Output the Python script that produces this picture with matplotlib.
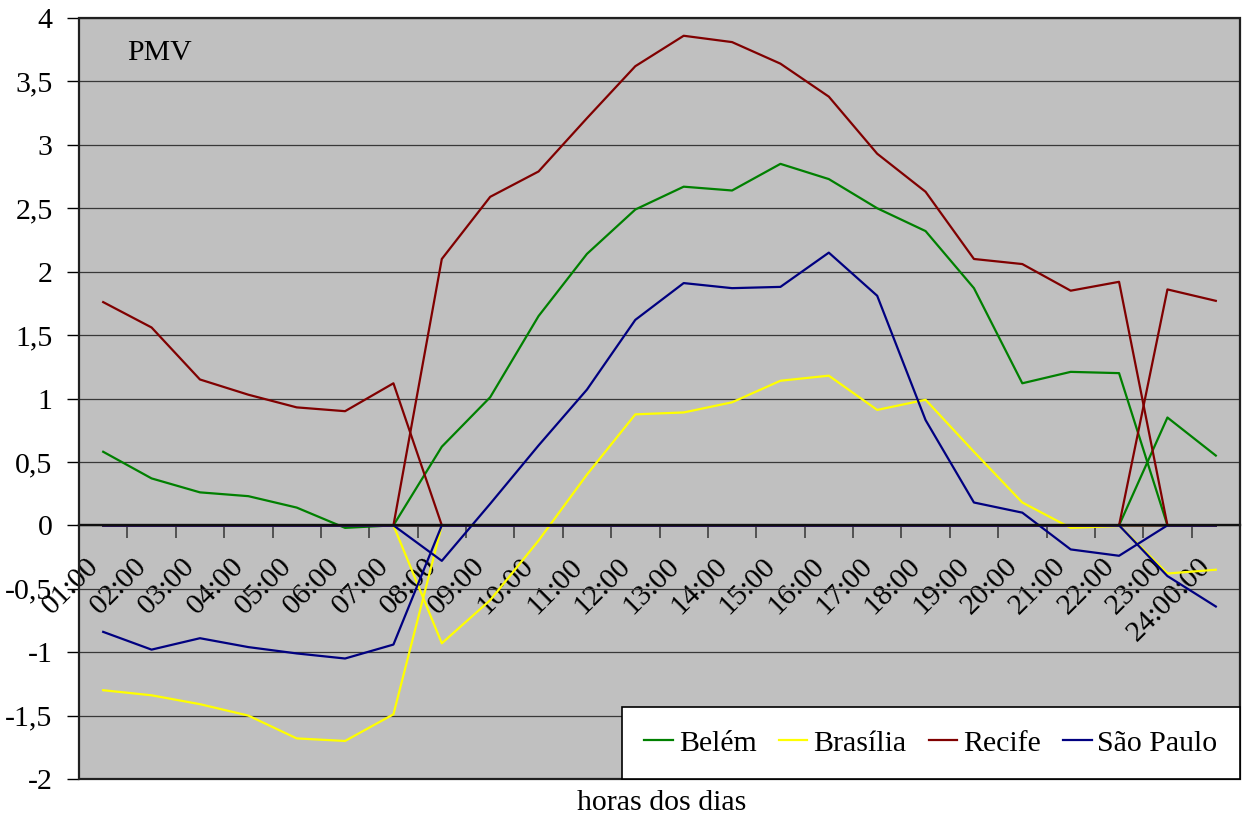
import numpy as np
import matplotlib
matplotlib.use("Agg")
import matplotlib.pyplot as plt
from matplotlib.ticker import FixedLocator, FuncFormatter, MultipleLocator
from matplotlib.patches import Rectangle
import matplotlib.transforms as mtransforms

plt.rcParams['font.family'] = ['Liberation Serif', 'DejaVu Serif']

hours = ['01:00', '02:00', '03:00', '04:00', '05:00', '06:00', '07:00', '08:00',
         '09:00', '10:00', '11:00', '12:00', '13:00', '14:00', '15:00', '16:00',
         '17:00', '18:00', '19:00', '20:00', '21:00', '22:00', '23:00', '24:00:00']

belem = [0.58, 0.37, 0.26, 0.23, 0.14, -0.02, 0.0, 0.62, 1.01, 1.65, 2.14, 2.49,
         2.67, 2.64, 2.85, 2.73, 2.50, 2.32, 1.87, 1.12, 1.21, 1.20, 0.85, 0.55]
brasilia = [-1.30, -1.34, -1.41, -1.50, -1.68, -1.70, -1.49, -0.93, -0.59, -0.12,
            0.40, 0.875, 0.89, 0.97, 1.14, 1.18, 0.91, 0.99, 0.58, 0.18, -0.02,
            -0.005, -0.38, -0.35]
recife = [1.76, 1.56, 1.15, 1.03, 0.93, 0.90, 1.12, 2.10, 2.59, 2.79, 3.21, 3.62,
          3.86, 3.81, 3.64, 3.38, 2.93, 2.63, 2.10, 2.06, 1.85, 1.92, 1.86, 1.77]
sao_paulo = [-0.84, -0.98, -0.89, -0.96, -1.01, -1.05, -0.94, -0.28, 0.17, 0.63,
             1.07, 1.62, 1.91, 1.87, 1.88, 2.15, 1.81, 0.83, 0.18, 0.10, -0.19,
             -0.24, -0.40, -0.64]

cities = ['Belém', 'Brasília', 'Recife', 'São Paulo']
colors = ['#008000', '#FFFF00', '#800000', '#000080']
# each day period is its own series, zero outside its hours
periods = [(0, 7), (7, 22), (22, 24)]

FS = 21.5

fig = plt.figure(figsize=(12.42, 8.18), dpi=100)
ax = fig.add_axes([79 / 1242, 1 - 779 / 818, 1161 / 1242, 761 / 818])
ax.set_facecolor('#C0C0C0')

x = np.arange(len(hours))
for name, vals, col in zip(cities, [belem, brasilia, recife, sao_paulo], colors):
    vals = np.asarray(vals)
    for k, (a, b) in enumerate(periods):
        mask = (x >= a) & (x < b)
        y = np.where(mask, vals, 0.0)
        ax.plot(x, y, color=col, lw=1.6, zorder=3,
                label=name if k == 0 else '_nolegend_')

ax.set_xlim(-0.5, 23.5)
ax.set_ylim(-2, 4)

# y axis
ax.yaxis.set_major_locator(MultipleLocator(0.5))
ax.yaxis.set_major_formatter(FuncFormatter(
    lambda v, p: ('%g' % v).replace('.', ',')))
ax.tick_params(axis='y', direction='out', length=9, width=1, color='black',
               labelsize=FS, pad=10)
ax.grid(axis='y', color='#383838', lw=0.9, zorder=1)
ax.set_axisbelow(True)

# category axis crossing at zero
ax.spines['bottom'].set_position(('data', 0))
ax.spines['bottom'].set_color('#101010')
ax.spines['bottom'].set_linewidth(1.7)
ax.spines['bottom'].set_zorder(4)
ax.spines['left'].set_linewidth(1.4)
ax.spines['left'].set_color('black')
ax.spines['top'].set_visible(False)
ax.spines['right'].set_visible(False)

ax.xaxis.set_major_locator(FixedLocator(x))
ax.xaxis.set_minor_locator(FixedLocator(x[:-1] + 0.5))
ax.set_xticklabels(hours)
ax.tick_params(axis='x', which='major', length=0, labelsize=FS, pad=0)
ax.tick_params(axis='x', which='minor', direction='out', length=9, width=1.2,
               color='#404040')
shift = mtransforms.ScaledTranslation(-18 / 100, -28 / 100, fig.dpi_scale_trans)
for lab in ax.get_xticklabels():
    lab.set_rotation(45)
    lab.set_rotation_mode('anchor')
    lab.set_ha('right')
    lab.set_va('top')
    lab.set_transform(lab.get_transform() + shift)

# plot area frame
ax.add_patch(Rectangle((0, 0), 1, 1, transform=ax.transAxes, fill=False,
                       edgecolor='#202020', lw=1.6, zorder=5, clip_on=False))

ax.text((127 - 79) / 1161, (779 - 60) / 761, 'PMV',
        transform=ax.transAxes, fontsize=FS, va='baseline', ha='left')

leg = ax.legend(loc='lower right', bbox_to_anchor=(1, 0), ncol=4, fontsize=FS,
                frameon=True, fancybox=False, framealpha=1, borderaxespad=0,
                handlelength=0.95, handletextpad=0.2, columnspacing=0.75,
                borderpad=0.75)
leg.get_frame().set_edgecolor('black')
leg.get_frame().set_linewidth(1.2)
leg.get_frame().set_facecolor('white')
leg.set_zorder(6)

fig.text(662 / 1242, 1 - 803 / 818, 'horas dos dias', fontsize=FS,
         ha='center', va='center')

fig.savefig('out.png', dpi=100, facecolor='white')
